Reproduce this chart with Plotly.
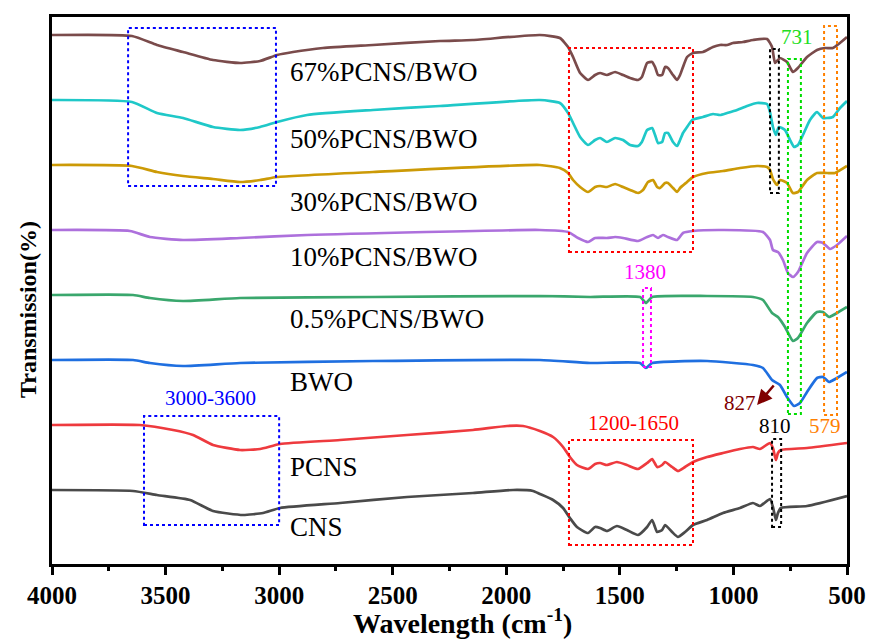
import plotly.graph_objects as go

# ---------------- data (wavenumber cm^-1, relative transmission a.u.) ----------------
names = ["67%PCNS/BWO", "50%PCNS/BWO", "30%PCNS/BWO", "10%PCNS/BWO",
         "0.5%PCNS/BWO", "BWO", "PCNS", "CNS"]
colors = ["#7a4b4b", "#1fc8c8", "#cc9a06", "#ad70dc", "#3aa76d", "#1f6fe0", "#ee3a3e", "#4a4a4a"]
offsets = [529, 464, 399, 334, 269, 204, 139, 74]

wn_67 = [4000, 3648, 3538, 3423, 3291, 3172, 3084, 3009, 2939, 2807, 2587, 2292, 2147, 1852, 1764, 1728, 1706,
         1675, 1640, 1609, 1587, 1557, 1521, 1486, 1455, 1420, 1403, 1380, 1358, 1345, 1332, 1314, 1301, 1288,
         1266, 1248, 1235, 1222, 1204, 1178, 1134, 1090, 1059, 1028, 1002, 958, 914, 852, 830, 817, 804, 795,
         764, 738, 716, 676, 632, 597, 562, 531, 500]
t_67 = [0, -1, -10, -17, -25, -28, -26, -20, -17, -13, -10, -6, -5, 0, -3, -12, -22,
        -38, -45, -40, -38, -40, -37, -40, -43, -45, -42, -28, -27, -32, -40, -40, -32, -33,
        -40, -45, -40, -32, -22, -18, -17, -12, -10, -10, -8, -7, -5, -4, -12, -28, -25, -23,
        -27, -37, -33, -22, -15, -13, -13, -8, -2]

wn_50 = [4000, 3648, 3538, 3423, 3291, 3172, 3084, 3009, 2877, 2587, 2292, 1852, 1764, 1728, 1706, 1675, 1640,
         1609, 1587, 1557, 1521, 1486, 1455, 1420, 1403, 1380, 1358, 1345, 1332, 1314, 1301, 1288, 1266, 1248,
         1235, 1222, 1204, 1182, 1134, 1090, 1059, 1028, 984, 940, 896, 852, 839, 826, 813, 800, 773, 751, 733,
         716, 694, 663, 632, 606, 588, 562, 531, 500]
t_50 = [0, -2, -13, -18, -27, -30, -27, -22, -15, -10, -6, 0, -3, -13, -23, -37, -45,
        -40, -38, -42, -38, -40, -45, -46, -42, -30, -28, -35, -43, -42, -33, -33, -42, -46,
        -40, -33, -27, -20, -17, -14, -15, -13, -10, -6, -3, -4, -12, -27, -35, -27, -30, -40, -47,
        -45, -35, -20, -12, -18, -18, -17, -8, -1]

wn_30 = [4000, 3648, 3538, 3423, 3291, 3172, 3084, 3009, 2587, 1852, 1764, 1728, 1706, 1675, 1640, 1609, 1587,
         1557, 1521, 1486, 1455, 1420, 1398, 1376, 1354, 1336, 1323, 1301, 1288, 1266, 1248, 1235, 1204, 1178,
         1116, 1046, 971, 896, 852, 839, 826, 808, 795, 764, 738, 716, 676, 632, 588, 553, 500]
t_30 = [0, -1, -7, -11, -14, -17, -15, -12, -7, 0, -3, -8, -15, -22, -27, -22, -21,
        -22, -19, -22, -25, -28, -25, -17, -15, -22, -23, -18, -18, -23, -27, -23, -17, -12,
        -8, -6, -3, -1, -2, -5, -14, -20, -15, -18, -28, -27, -15, -8, -8, -8, -1]

wn_10 = [4000, 3657, 3569, 3423, 3172, 2877, 1852, 1728, 1684, 1640, 1609, 1557, 1521, 1486, 1420, 1380, 1354,
         1332, 1310, 1288, 1248, 1222, 1178, 1046, 870, 839, 826, 804, 782, 760, 738, 716, 676, 632, 606, 575,
         544, 500]
t_10 = [0, -1, -7, -10, -8, -5, 0, -2, -8, -12, -8, -8, -7, -8, -11, -7, -5,
        -8, -5, -7, -10, -3, -1, 0, -2, -10, -20, -22, -30, -43, -47, -42, -23, -12, -13, -19,
        -15, -6]

wn_05 = [4000, 3643, 3569, 3423, 3172, 2587, 1852, 1631, 1411, 1385, 1358, 1116, 914, 870, 830, 804, 773, 738,
         716, 676, 632, 606, 579, 544, 500]
t_05 = [0, 0, -3, -6, -3, -2, -1, -2, -2, -8, -2, -1, -2, -5, -18, -22, -32, -46,
        -43, -28, -17, -17, -22, -18, -12]

wn_bwo = [4000, 3643, 3569, 3423, 3172, 2587, 1852, 1631, 1411, 1385, 1358, 1116, 914, 870, 830, 795, 764, 733,
          707, 676, 632, 606, 579, 544, 500]
t_bwo = [0, 0, -3, -6, -3, -1, 0, -3, -3, -8, -3, -1, -5, -8, -20, -25, -37, -46,
         -43, -32, -18, -17, -22, -18, -12]

wn_pcns = [4000, 3613, 3467, 3379, 3291, 3172, 3084, 2996, 2732, 2437, 2147, 1997, 1926, 1852, 1794, 1750, 1720,
           1689, 1640, 1609, 1587, 1557, 1513, 1469, 1420, 1380, 1358, 1336, 1314, 1301, 1270, 1244, 1213, 1178,
           1116, 1046, 971, 914, 883, 839, 826, 813, 804, 791, 676, 500]
t_pcns = [0, 0, -5, -10, -20, -25, -24, -19, -15, -10, -5, -1, -1, -6, -12, -22, -32,
          -40, -44, -39, -38, -40, -37, -40, -44, -38, -34, -42, -40, -37, -42, -46, -42, -37,
          -32, -28, -24, -22, -24, -18, -23, -35, -28, -25, -23, -18]

wn_cns = [4000, 3643, 3538, 3392, 3291, 3159, 3071, 2996, 2732, 2437, 2147, 1970, 1882, 1852, 1794, 1750, 1720,
          1689, 1640, 1609, 1587, 1557, 1513, 1469, 1420, 1380, 1358, 1336, 1314, 1301, 1270, 1244, 1213, 1178,
          1116, 1046, 971, 914, 883, 839, 826, 813, 804, 791, 676, 500]
t_cns = [0, -1, -5, -10, -21, -25, -23, -18, -13, -7, -3, 0, -1, -4, -10, -18, -28,
         -37, -43, -37, -38, -41, -36, -40, -45, -37, -30, -42, -40, -35, -42, -47, -42, -35,
         -30, -23, -18, -13, -16, -9, -17, -30, -23, -18, -16, -6]

wavenumbers = [wn_67, wn_50, wn_30, wn_10, wn_05, wn_bwo, wn_pcns, wn_cns]
transmissions = [t_67, t_50, t_30, t_10, t_05, t_bwo, t_pcns, t_cns]

label_wn = 2961
label_y = [492, 425, 362, 307, 245, 182, 97, 37]

x_ticks = [4000, 3500, 3000, 2500, 2000, 1500, 1000, 500]

# highlight boxes: (x0, x1, y0, y1, color)
boxes = [
    (3665, 3014, 378, 536, "#0000ff"),
    (3595, 3000, 39, 148, "#0000ff"),
    (1724, 1178, 312, 516, "#ff0000"),
    (1724, 1178, 19, 124, "#ff0000"),
    (839, 800, 371, 515, "#000000"),
    (830, 790, 37, 125, "#000000"),
    (760, 703, 150, 505, "#00dd00"),
    (601, 544, 149, 538, "#ff8000"),
    (1398, 1363, 197, 276, "#ff00ff"),
]
# band labels: (text, x, y, color)
band_labels = [
    ("731", 720, 527, "#22dd22"),
    ("1380", 1389, 292, "#ff00ff"),
    ("827", 971, 161, "#800000"),
    ("810", 817, 138, "#000000"),
    ("579", 597, 138, "#ff8000"),
    ("1200-1650", 1442, 141, "#ff0000"),
    ("3000-3600", 3304, 166, "#0000ff"),
]

SERIF = "Liberation Serif"

fig = go.Figure()
for name, col, off, wn, tr in zip(names, colors, offsets, wavenumbers, transmissions):
    fig.add_trace(go.Scatter(
        x=wn, y=[v + off for v in tr], mode="lines", name=name,
        line=dict(color=col, width=2.7, shape="spline", smoothing=0.5),
        showlegend=False, hoverinfo="skip"))

for x0, x1, y0, y1, col in boxes:
    fig.add_shape(type="rect", x0=x0, x1=x1, y0=y0, y1=y1, xref="x", yref="y",
                  line=dict(color=col, width=2, dash="dot"), fillcolor="rgba(0,0,0,0)")

for name, y in zip(names, label_y):
    fig.add_annotation(x=label_wn, y=y, text=name, showarrow=False, xanchor="left", yanchor="middle",
                       font=dict(family=SERIF, size=27, color="black"))

for txt, x, y, col in band_labels:
    fig.add_annotation(x=x, y=y, text=txt, showarrow=False, xanchor="center", yanchor="middle",
                       font=dict(family=SERIF, size=21, color=col))

# arrow for 827
fig.add_annotation(x=896, y=159, ax=817, ay=180, xref="x", yref="y", axref="x", ayref="y",
                   text="", showarrow=True, arrowhead=2, arrowsize=1.2, arrowwidth=2.5,
                   arrowcolor="#800000")

# axis titles as annotations for precise placement
fig.add_annotation(x=0.516, y=-0.105, xref="paper", yref="paper", showarrow=False,
                   text="Wavelength (cm<sup>-1</sup>)", xanchor="center", yanchor="middle",
                   font=dict(family=SERIF, size=28, color="black", weight="bold"))
fig.add_annotation(x=-0.031, y=0.465, xref="paper", yref="paper", showarrow=False,
                   text="Transmission(%)", textangle=-90, xanchor="center", yanchor="middle",
                   font=dict(family=SERIF, size=24, color="black", weight="bold"))

fig.update_layout(
    width=870, height=639,
    margin=dict(l=52, r=23, t=17, b=75),
    plot_bgcolor="white", paper_bgcolor="white",
    xaxis=dict(
        range=[4000, 500], tickvals=x_ticks, ticktext=[str(v) for v in x_ticks],
        ticks="outside", ticklen=8, tickwidth=2.5, tickcolor="black",
        minor=dict(ticks="outside", ticklen=4, tickwidth=2.5, tickcolor="black", dtick=250, tick0=4000),
        showline=True, linewidth=3, linecolor="black", mirror=True,
        showgrid=False, zeroline=False, automargin=False, ticklabelstandoff=-1,
        tickfont=dict(family=SERIF, size=25, color="black", weight="bold"),
    ),
    yaxis=dict(
        range=[0, 547], showticklabels=False, ticks="",
        showline=True, linewidth=3, linecolor="black", mirror=True,
        showgrid=False, zeroline=False, automargin=False,
    ),
)

fig.write_html("out.html")
